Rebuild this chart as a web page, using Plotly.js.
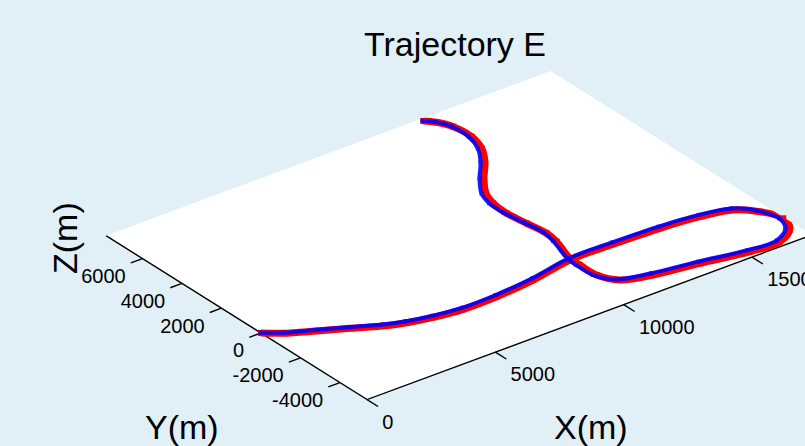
<!DOCTYPE html>
<html>
<head>
<meta charset="utf-8">
<script src="https://cdn.plot.ly/plotly-3.0.1.min.js"></script>
<style>html,body{margin:0;padding:0;background:#E1EFF7;}#chart{width:805px;height:446px;}</style>
</head>
<body>
<div id="chart"></div>
<script>
// ---------------- DATA ----------------
// True trajectory (red), metres
const xTrue = [0, 535, 1443, 2365, 3271, 3974, 4837, 5884, 7195, 8744, 10470, 12100, 13869, 15303, 16381, 16969, 17283, 17056, 16288, 15163, 13484, 11882, 10870, 10495, 10475, 10480, 10814, 10897, 10797, 10697, 10759, 10971, 11508, 12180, 12622, 12830, 12769, 12534, 12257];
const yTrue = [0, -434, -945, -1433, -1942, -2213, -2440, -2597, -2584, -2425, -2093, -2110, -2182, -2344, -2630, -3217, -3990, -4624, -5115, -5059, -4708, -4425, -4053, -3362, -2541, -2050, -921, -307, 575, 1458, 2217, 2861, 3660, 4483, 5225, 6001, 6855, 7389, 7707];
// Estimated trajectory (blue), metres
const xEst = [0, 560, 1480, 2400, 3320, 4010, 4880, 5930, 7240, 8790, 10500, 12150, 13900, 15340, 16400, 16940, 17180, 16950, 16250, 15160, 13500, 11900, 10800, 10400, 10380, 10420, 10750, 10850, 10760, 10640, 10660, 10850, 11380, 12050, 12520, 12760, 12730, 12500, 12250];
const yEst = [30, -400, -880, -1370, -1860, -2130, -2350, -2500, -2480, -2320, -1990, -2000, -2070, -2230, -2520, -3120, -3920, -4530, -4990, -4930, -4590, -4300, -3950, -3280, -2470, -1960, -830, -200, 680, 1550, 2300, 2930, 3720, 4540, 5290, 6080, 6930, 7460, 7740];

// Tick labels
const xTicks = [0, 5000, 10000, 15000];
const xTickText = ['0', '5000', '10000', '15000'];
const yTicks = [-4000, -2000, 0, 2000, 4000, 6000];
const yTickText = ['-4000', '-2000', '0', '2000', '4000', '6000'];

// ---------------- VIEW (top-down 3-D view, stretched) ----------------
const X_LIM = [0, 17330];
const Y_LIM = [-5370, 7850];
const ORIGIN = [261, 113];         // pixel position of X=0, Y=0
const EX = [0.02566, 0.0095];      // pixels per metre of X
const EY = [-0.01975, 0.0124];     // pixels per metre of Y
function P(a, b) { return [ORIGIN[0] + a * EX[0] + b * EY[0], ORIGIN[1] + a * EX[1] + b * EY[1]]; }
const CA = [X_LIM[0] - 2400, X_LIM[1]];
const CB = [Y_LIM[0] - 2600, Y_LIM[1]];
const carpX = [[P(CA[0], CB[0])[0], P(CA[1], CB[0])[0]], [P(CA[0], CB[1])[0], P(CA[1], CB[1])[0]]];
const carpY = [[P(CA[0], CB[0])[1], P(CA[1], CB[0])[1]], [P(CA[0], CB[1])[1], P(CA[1], CB[1])[1]]];

const TICK_LEN_X = 557;   // X tick marks point along -Y
const TICK_LEN_Y = 456;   // Y tick marks point along -X
const XLAB_OFF = [-560, -1500];
const YLAB_OFF = [-1170, -670];

const FONT = '"Liberation Sans", Arial, Helvetica, sans-serif';

const hiddenAxis = {showgrid: false, showline: false, showticklabels: 'none', startline: false, endline: false,
                    minorgridcount: 0, tickmode: 'array', tickvals: [], color: 'rgba(0,0,0,0)'};

// tick marks
const tA = [], tB = [];
xTicks.forEach(t => { tA.push(t, t, null); tB.push(Y_LIM[0], Y_LIM[0] - TICK_LEN_X, null); });
yTicks.forEach(t => { tA.push(X_LIM[0], X_LIM[0] - TICK_LEN_Y, null); tB.push(t, t, null); });

const traces = [
  {type: 'carpet', carpet: 'c', a: CA, b: CB, x: carpX, y: carpY, aaxis: hiddenAxis, baxis: hiddenAxis, hoverinfo: 'skip'},
  // white axes plane
  {type: 'scattercarpet', carpet: 'c', mode: 'lines',
   a: [X_LIM[0], X_LIM[1], X_LIM[1], X_LIM[0], X_LIM[0]], b: [Y_LIM[0], Y_LIM[0], Y_LIM[1], Y_LIM[1], Y_LIM[0]],
   fill: 'toself', fillcolor: '#FFFFFF', line: {width: 0, color: 'rgba(0,0,0,0)'}, hoverinfo: 'skip', showlegend: false},
  // axis lines
  {type: 'scattercarpet', carpet: 'c', mode: 'lines',
   a: [X_LIM[0], X_LIM[0], X_LIM[1]], b: [Y_LIM[1], Y_LIM[0], Y_LIM[0]],
   line: {color: '#000', width: 1.4}, hoverinfo: 'skip', showlegend: false},
  // tick marks
  {type: 'scattercarpet', carpet: 'c', mode: 'lines', a: tA, b: tB, connectgaps: false,
   line: {color: '#000', width: 1.4}, hoverinfo: 'skip', showlegend: false},
  // X tick labels
  {type: 'scattercarpet', carpet: 'c', mode: 'text',
   a: xTicks.map(t => t + XLAB_OFF[0]), b: xTicks.map(() => Y_LIM[0] + XLAB_OFF[1]),
   text: xTickText, textposition: 'middle right', textfont: {family: FONT, size: 20, color: '#000'},
   hoverinfo: 'skip', showlegend: false},
  // Y tick labels
  {type: 'scattercarpet', carpet: 'c', mode: 'text',
   a: yTicks.map(() => X_LIM[0] + YLAB_OFF[0]), b: yTicks.map(t => t + YLAB_OFF[1]),
   text: yTickText, textposition: 'middle left', textfont: {family: FONT, size: 20, color: '#000'},
   hoverinfo: 'skip', showlegend: false},
  // trajectories
  {type: 'scattercarpet', carpet: 'c', mode: 'lines+markers', a: xTrue, b: yTrue,
   line: {color: '#FF0000', width: 7, shape: 'spline', smoothing: 1}, marker: {symbol: 'square', size: 6, color: '#FF0000'},
   hoverinfo: 'skip', showlegend: false},
  {type: 'scattercarpet', carpet: 'c', mode: 'lines+markers', a: xEst, b: yEst,
   line: {color: '#0000FF', width: 4, shape: 'spline', smoothing: 1}, marker: {symbol: 'square', size: 4, color: '#0000FF'},
   opacity: 0.9, hoverinfo: 'skip', showlegend: false}
];

const layout = {
  width: 805, height: 446,
  paper_bgcolor: '#E1EFF7', plot_bgcolor: 'rgba(0,0,0,0)',
  margin: {l: 0, r: 0, t: 0, b: 0},
  showlegend: false,
  font: {family: FONT, color: '#000'},
  xaxis: {range: [0, 805], visible: false, fixedrange: true},
  yaxis: {range: [0, 446], visible: false, fixedrange: true},
  title: {text: 'Trajectory E', font: {family: FONT, size: 34, color: '#000'}, x: 455 / 805, xanchor: 'center', y: 1 - 44 / 446, yanchor: 'middle'},
  annotations: [
    {text: 'X(m)', xref: 'paper', yref: 'paper', x: 591 / 805, y: 1 - 427 / 446, xanchor: 'center', yanchor: 'middle', showarrow: false, font: {family: FONT, size: 34, color: '#000'}},
    {text: 'Y(m)', xref: 'paper', yref: 'paper', x: 182 / 805, y: 1 - 427 / 446, xanchor: 'center', yanchor: 'middle', showarrow: false, font: {family: FONT, size: 34, color: '#000'}},
    {text: 'Z(m)', xref: 'paper', yref: 'paper', x: 65 / 805, y: 1 - 238 / 446, xanchor: 'center', yanchor: 'middle', textangle: -90, showarrow: false, font: {family: FONT, size: 34, color: '#000'}}
  ]
};

Plotly.newPlot('chart', traces, layout, {displayModeBar: false, staticPlot: true});
</script>
</body>
</html>
